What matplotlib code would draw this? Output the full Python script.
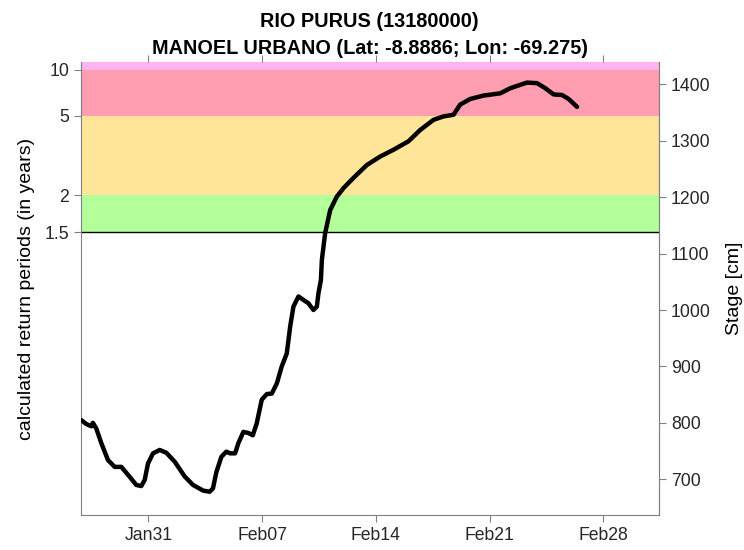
import pandas as pd
import matplotlib
matplotlib.use('Agg')
import matplotlib.pyplot as plt
import matplotlib.dates as mdates

plt.rcParams['font.family'] = ['Liberation Sans', 'DejaVu Sans']

# days after Jan 31 and stage readings [cm]
days = [-4.13, -3.82, -3.51, -3.41, -3.20, -2.89, -2.48, -2.07, -1.66, -1.25,
        -0.74, -0.43, -0.22, -0.02, 0.29, 0.70, 1.11, 1.63, 2.24, 2.75,
        3.37, 3.78, 3.98, 4.19, 4.50, 4.80, 5.03, 5.34, 5.54, 5.85,
        6.16, 6.43, 6.67, 6.98, 7.29, 7.60, 7.91, 8.21, 8.52, 8.73,
        8.93, 9.24, 9.54, 9.85, 10.16, 10.37, 10.47, 10.62, 10.68, 10.88,
        11.19, 11.60, 12.01, 12.62, 13.45, 14.27, 15.09, 16.01, 16.73, 17.55,
        18.16, 18.78, 19.19, 19.81, 20.63, 21.66, 22.27, 23.30, 23.92, 24.43,
        24.94, 25.46, 25.86, 26.38]
stage = [805, 798, 794, 800, 790, 764, 734, 722, 722, 708,
         690, 688, 699, 728, 746, 752, 747, 731, 705, 690,
         680, 678, 684, 713, 740, 749, 746, 746, 764, 784,
         782, 778, 799, 841, 851, 852, 870, 900, 923, 971,
         1006, 1024, 1018, 1012, 1000, 1006, 1030, 1053, 1089, 1136,
         1177, 1201, 1216, 1234, 1257, 1272, 1284, 1299, 1319, 1337,
         1343, 1346, 1364, 1374, 1380, 1384, 1393, 1403, 1402, 1393,
         1382, 1381, 1374, 1360]

# return period thresholds and the stage they correspond to
rp_labels = ['1.5', '2', '5', '10']
rp_stage = [1137.6, 1203.7, 1344.3, 1425.4]
band_colors = ['#b3ff99', '#ffe599', '#ff9eb0', '#ffb3f0']

stage_ticks = [700, 800, 900, 1000, 1100, 1200, 1300, 1400]
date_ticks = ['2021-01-31', '2021-02-07', '2021-02-14', '2021-02-21', '2021-02-28']

t0 = pd.Timestamp('2021-01-31')
times = t0 + pd.to_timedelta(days, unit='D')

ymin, ymax = 636.7, 1439.5
gray = '#808080'

fig = plt.figure(figsize=(7.44, 5.5), dpi=100)
ax = fig.add_axes([0.1089, 0.0636, 0.777, 0.8237])

edges = rp_stage + [ymax]
for i, c in enumerate(band_colors):
    ax.axhspan(edges[i], edges[i + 1], color=c, lw=0, zorder=0)
ax.axhline(rp_stage[0], color='black', lw=1, zorder=1)

ax.plot(times, stage, color='black', lw=3.2, solid_capstyle='round',
        solid_joinstyle='round', zorder=3)

ax.set_ylim(ymin, ymax)
ax.set_xlim(t0 - pd.Timedelta(days=4.14), t0 + pd.Timedelta(days=31.43))
ax.set_yticks(rp_stage)
ax.set_yticklabels(rp_labels)
ax.set_xticks(pd.to_datetime(date_ticks))
ax.xaxis.set_major_formatter(mdates.DateFormatter('%b%d'))
ax.set_ylabel('calculated return periods (in years)', fontsize=14, labelpad=7)

ax.tick_params(direction='out', length=5, color=gray, labelsize=12.7,
               labelcolor='#262626', top=True)
for s in ['left', 'bottom', 'right']:
    ax.spines[s].set_color(gray)
ax.spines['top'].set_visible(False)

sec = ax.secondary_yaxis('right')
sec.set_yticks(stage_ticks)
sec.tick_params(direction='out', length=5, color=gray, labelsize=12.7,
                labelcolor='#262626')
sec.spines['right'].set_color(gray)
sec.set_ylabel('Stage [cm]', fontsize=14, labelpad=11)

fig.suptitle('RIO PURUS (13180000)\nMANOEL URBANO (Lat: -8.8886; Lon: -69.275)',
             fontsize=14.3, fontweight='bold', x=0.497, y=0.978, linespacing=1.5)

fig.savefig('out.png', dpi=100)
